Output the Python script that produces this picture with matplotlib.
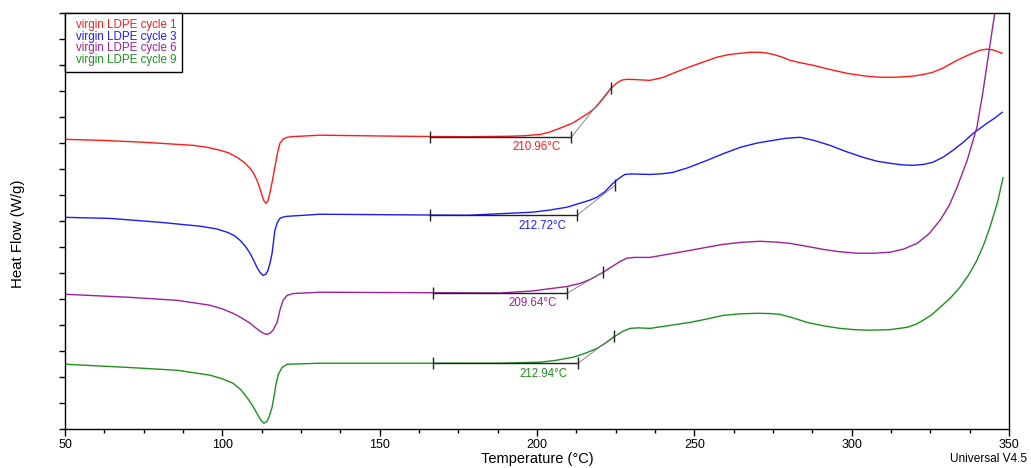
import matplotlib
matplotlib.use("Agg")
from matplotlib import pyplot as plt
from matplotlib.lines import Line2D
from matplotlib.ticker import MultipleLocator

plt.rcParams['font.family'] = ['Liberation Sans', 'DejaVu Sans']

labels = ["virgin LDPE cycle 1", "virgin LDPE cycle 3",
          "virgin LDPE cycle 6", "virgin LDPE cycle 9"]
colors = ["#ff1a1a", "#1a1aff", "#9b229b", "#1f8f1f"]

# heat flow curves, offset per cycle (arbitrary units)
temp_c1 = [50.3, 62.1, 74.8, 90.7, 95.0, 99.3, 102.0, 104.7, 107.0, 108.8, 110.0,
           111.0, 112.0, 112.6, 113.2, 113.9, 114.5, 115.1, 115.9, 116.7, 117.5,
           118.3, 119.3, 120.6, 122.5, 124.7, 131.0, 156.5, 177.8, 191.4, 196.0,
           201.0, 204.0, 207.3, 211.4, 213.7, 216.0, 218.4, 221.0, 223.5, 224.8,
           225.7, 227.0, 228.6, 231.0, 235.9, 240.0, 243.2, 247.0, 251.8, 257.2,
           261.0, 264.5, 268.0, 270.9, 273.0, 275.0, 278.0, 280.4, 284.0, 287.7,
           293.0, 298.5, 304.0, 309.0, 314.0, 319.5, 323.0, 325.8, 329.0, 333.5,
           337.0, 340.8, 343.0, 345.0, 347.8]
hf_c1 = [11.14, 11.10, 11.03, 10.91, 10.84, 10.72, 10.62, 10.45, 10.25, 10.03, 9.82,
         9.57, 9.23, 8.99, 8.78, 8.68, 8.78, 9.07, 9.55, 10.07, 10.60,
         10.99, 11.15, 11.22, 11.25, 11.26, 11.30, 11.26, 11.24, 11.26, 11.28,
         11.33, 11.42, 11.57, 11.77, 11.95, 12.12, 12.34, 12.70, 13.10, 13.25,
         13.33, 13.42, 13.45, 13.44, 13.41, 13.52, 13.68, 13.86, 14.07, 14.30,
         14.40, 14.45, 14.49, 14.49, 14.46, 14.41, 14.30, 14.18, 14.08, 13.99,
         13.83, 13.68, 13.58, 13.53, 13.53, 13.57, 13.64, 13.72, 13.88, 14.18,
         14.38, 14.57, 14.61, 14.58, 14.45]

temp_c3 = [50.3, 64.3, 80.2, 92.9, 98.0, 101.5, 103.8, 105.6, 107.3, 108.8, 110.0,
           111.0, 112.0, 112.9, 113.8, 114.5, 115.2, 115.8, 116.7, 117.5, 118.3,
           119.3, 120.6, 131.0, 177.8, 198.7, 204.0, 209.5, 213.0, 216.8, 219.0,
           221.5, 223.8, 225.8, 227.9, 230.0, 235.9, 240.0, 243.2, 248.0, 254.0,
           259.0, 264.5, 270.0, 275.0, 279.0, 283.6, 288.0, 293.1, 298.0, 303.6,
           308.0, 312.2, 316.0, 319.5, 323.0, 325.8, 329.0, 332.2, 335.5, 338.6,
           341.0, 343.0, 345.5, 347.8]
hf_c3 = [8.14, 8.10, 7.95, 7.80, 7.70, 7.57, 7.44, 7.26, 7.03, 6.76, 6.48,
         6.22, 6.02, 5.91, 5.95, 6.10, 6.40, 6.75, 7.64, 7.95, 8.10,
         8.15, 8.18, 8.26, 8.22, 8.34, 8.42, 8.53, 8.66, 8.80, 8.91,
         9.12, 9.41, 9.62, 9.79, 9.81, 9.79, 9.82, 9.87, 10.05, 10.33,
         10.58, 10.83, 11.00, 11.10, 11.18, 11.22, 11.10, 10.91, 10.68, 10.45,
         10.30, 10.22, 10.16, 10.14, 10.18, 10.26, 10.45, 10.72, 11.03, 11.37,
         11.58, 11.76, 11.96, 12.18]

temp_c6 = [50.3, 69.7, 85.6, 96.1, 100.0, 103.4, 106.0, 108.8, 110.5, 112.0, 113.2,
           114.2, 115.2, 116.1, 117.4, 118.3, 119.3, 120.6, 122.5, 131.0, 188.2,
           198.7, 203.0, 209.5, 213.7, 217.0, 221.0, 224.0, 226.5, 228.6, 231.0,
           235.9, 242.0, 248.6, 254.0, 259.1, 265.0, 270.9, 276.0, 280.4, 286.0,
           290.9, 296.0, 301.7, 307.0, 312.2, 316.5, 320.8, 324.5, 328.1, 331.0,
           333.5, 336.7, 339.8, 341.7, 343.6, 345.6]
hf_c6 = [5.18, 5.07, 4.95, 4.76, 4.62, 4.45, 4.28, 4.07, 3.90, 3.76, 3.67,
         3.64, 3.69, 3.80, 4.10, 4.57, 4.95, 5.14, 5.21, 5.26, 5.23,
         5.31, 5.38, 5.48, 5.60, 5.76, 6.03, 6.26, 6.45, 6.57, 6.60,
         6.60, 6.73, 6.87, 6.99, 7.10, 7.18, 7.22, 7.19, 7.14, 7.02,
         6.91, 6.82, 6.76, 6.76, 6.80, 6.92, 7.14, 7.50, 8.03, 8.60,
         9.30, 10.33, 11.60, 12.95, 14.49, 16.10]

temp_c9 = [50.3, 69.7, 85.6, 96.1, 100.0, 103.4, 105.8, 107.8, 109.5, 111.0, 112.2,
           113.2, 114.1, 114.8, 115.8, 116.5, 117.1, 117.8, 119.0, 120.6, 131.0,
           188.2, 201.0, 206.0, 211.4, 215.5, 219.1, 222.0, 224.8, 227.3, 229.6,
           232.0, 235.9, 242.0, 248.6, 254.0, 259.1, 264.5, 269.9, 274.0, 277.2,
           281.5, 285.8, 291.0, 296.3, 301.0, 305.8, 312.0, 317.6, 320.5, 322.7,
           325.5, 328.1, 331.3, 334.4, 337.2, 339.8, 342.0, 343.9, 345.3, 346.5,
           348.1]
hf_c9 = [2.49, 2.37, 2.26, 2.07, 1.93, 1.76, 1.52, 1.22, 0.92, 0.60, 0.35,
         0.22, 0.28, 0.45, 0.83, 1.30, 1.76, 2.10, 2.37, 2.49, 2.53,
         2.53, 2.57, 2.64, 2.76, 2.92, 3.10, 3.32, 3.57, 3.76, 3.87,
         3.89, 3.87, 3.98, 4.10, 4.23, 4.37, 4.43, 4.45, 4.44, 4.41,
         4.27, 4.10, 3.97, 3.87, 3.82, 3.80, 3.82, 3.91, 4.03, 4.18,
         4.40, 4.68, 5.03, 5.45, 5.93, 6.49, 7.10, 7.75, 8.30, 8.79,
         9.67]

# onset analysis (Universal Analysis style)
onset_temp = [210.96, 212.72, 209.64, 212.94]
base_start = [166.0, 166.0, 166.8, 166.8]
base_hf = [11.23, 8.22, 5.23, 2.52]
tan_temp = [223.5, 224.8, 221.0, 224.5]
tan_hf = [13.13, 9.37, 6.03, 3.57]

temps = [temp_c1, temp_c3, temp_c6, temp_c9]
flows = [hf_c1, hf_c3, hf_c6, hf_c9]

fig = plt.figure(figsize=(10.31, 4.68), dpi=100)
ax = fig.add_axes([65 / 1031, 39 / 468, 944 / 1031, 416 / 468])

for t, h, c in zip(temps, flows, colors):
    ax.plot(t, h, color=c, lw=1.0)

for i, c in enumerate(colors):
    y = base_hf[i]
    ax.plot([base_start[i], onset_temp[i]], [y, y], color="#222222", lw=1.0)
    ax.plot([onset_temp[i], tan_temp[i]], [y, tan_hf[i]], color="#777777", lw=0.6)
    ax.plot([base_start[i], onset_temp[i], tan_temp[i]], [y, y, tan_hf[i]],
            linestyle="none", marker="|", ms=9, mew=1.0, color="#222222")
    ax.text(onset_temp[i] - 11, y - 0.4, f"{onset_temp[i]:.2f}°C", color=c,
            fontsize=8.3, ha="center", va="center")

ax.set_xlim(50, 350)
ax.set_ylim(0, 16)
ax.xaxis.set_major_locator(MultipleLocator(50))
ax.xaxis.set_minor_locator(MultipleLocator(12.5))
ax.yaxis.set_major_locator(MultipleLocator(1))
ax.tick_params(axis="x", which="major", direction="out", length=5, width=1,
               labelsize=9, pad=2)
ax.tick_params(axis="x", which="minor", direction="out", length=3, width=1)
ax.tick_params(axis="y", which="major", direction="out", length=4, width=1,
               labelleft=False)
for s in ax.spines.values():
    s.set_linewidth(1.0)

ax.set_xlabel("Temperature (°C)", fontsize=10.5, labelpad=1)
fig.text(18 / 1031, 0.5, "Heat Flow (W/g)", rotation=90, fontsize=10.8,
         ha="center", va="center")
fig.text(950 / 1031, (468 - 459) / 468, "Universal V4.5", fontsize=8.6,
         ha="left", va="center")

handles = [Line2D([], [], color=c, linestyle="none") for c in colors]
leg = ax.legend(handles, labels, loc="upper left", bbox_to_anchor=(0, 1),
                borderaxespad=0, fancybox=False, edgecolor="black",
                framealpha=1, fontsize=8.3, labelcolor="linecolor",
                handlelength=0, handletextpad=0.45, borderpad=0.5,
                labelspacing=-0.02)
leg.get_frame().set_linewidth(1.0)

fig.savefig("out.png", dpi=100)
